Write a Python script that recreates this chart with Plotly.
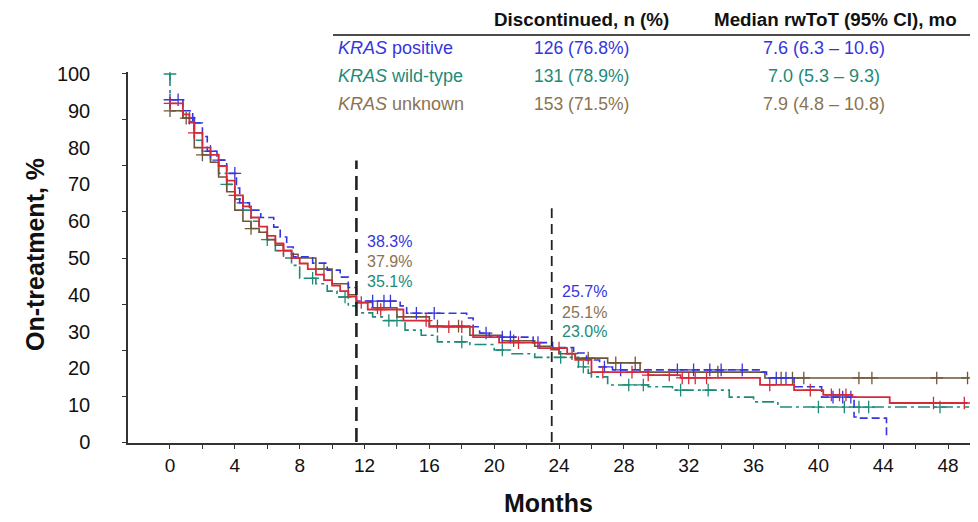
import bisect
import plotly.graph_objects as go

# ---------------- data ----------------
blue_t = [0, 0.8, 1.4, 2.0, 2.3, 2.9, 3.5, 4.1, 4.3, 4.9, 5.6, 6.4, 6.8, 7.2, 7.6, 8.8, 9.7, 10.5, 11.0, 11.5,
          14.2, 14.6, 18.3, 18.7, 19.1, 19.7, 22.4, 23.6, 24.9, 25.7, 26.5, 27.3, 36.5, 36.8, 38.5, 40.2, 42.2, 42.6, 44.2]
blue_v = [93, 90, 86.7, 83, 79, 76.6, 73, 69, 65, 63, 61, 58.4, 55.7, 53, 50.3, 48.6, 46.7, 44.8, 42, 38.3,
          37, 35, 33.7, 31.3, 29.6, 28.5, 27, 25.7, 24.2, 22.3, 20.4, 19.6, 19, 17.4, 15, 12.2, 6.8, 6.5, 1.5]
blue_c = [0, 0.5, 1.5, 2.5, 3.0, 4.0, 4.5, 12.5, 13.2, 13.6, 15.2, 16.3, 19.5, 20.5, 21, 22.7, 26.8, 27.8,
          31.3, 32.3, 33.3, 34.0, 35.3, 37.4, 38.0, 40.9, 41.5, 42.0]

teal_t = [0, 0, 0.8, 1.5, 2.0, 2.5, 3.0, 3.5, 4.0, 4.5, 5.0, 5.5, 6.0, 6.5, 7.0, 7.5, 8.0, 9.0, 9.7, 10.3, 11.0,
          11.5, 12.5, 13.2, 14.5, 15.5, 16.5, 18.5, 20.0, 21.0, 22.5, 25.2, 25.8, 26.0, 27.0, 29.5, 31.0, 34.5,
          36.0, 37.5, 49.3]
teal_v = [100, 90, 88, 82, 79, 76, 73, 70, 66, 63, 60, 57, 55, 52, 50, 48, 44.5, 43, 41, 39.4, 37,
          35.1, 34, 33, 30.4, 29, 27.2, 26.5, 25, 24, 23, 20.4, 18.7, 17.7, 15.5, 15, 14.1, 12.2,
          10.9, 9.5, 9.5]
teal_c = [0, 1.2, 3.5, 6.0, 8.8, 10.8, 13.5, 14.0, 18.0, 20.5, 24.1, 25.5, 28.3, 29.2, 31.5, 33.2, 40.0,
          41.6, 42.5, 43.1, 47.5]

brown_t = [0, 0.8, 1.5, 2.0, 2.5, 3.0, 3.5, 4.0, 4.5, 5.0, 5.5, 6.0, 6.5, 7.0, 7.5, 7.9, 9.0, 10.0, 11.0, 11.5,
           12.5, 14.0, 16.0, 18.5, 20.5, 22.5, 23.5, 24.0, 25.0, 27.0, 29.0, 36.7, 49.3]
brown_v = [90, 88, 80, 78, 76, 72, 68, 63, 60, 58, 57, 55, 53.5, 52, 51, 50, 47, 43, 40, 37.9,
           36.5, 34, 31.5, 29, 27.5, 26, 25.1, 24, 22.8, 21.5, 19, 17.4, 17.4]
brown_c = [0, 1.0, 2.0, 5.0, 9.5, 12.8, 16.5, 17.8, 21.2, 24.8, 25.8, 27.5, 28.7, 33.8, 37.7, 38.4, 39.1,
           42.5, 43.3, 47.3, 49.2]

red_t = [0, 0.8, 1.2, 1.5, 2.0, 2.5, 3.0, 3.5, 4.0, 4.5, 5.0, 5.5, 6.0, 6.5, 7.0, 7.5, 8.0, 8.5, 9.0, 9.5,
         10.0, 10.5, 11.0, 11.5, 12.2, 14.4, 16.0, 18.7, 20.3, 22.8, 24.5, 25.0, 26.0, 29.5, 31.5, 36.4,
         38.5, 40.3, 42.1, 44.4, 49.2]
red_v = [92, 89, 87, 84, 80, 78, 75, 71, 67, 64, 61, 58.5, 56, 54, 52, 50, 48.5, 47, 45.5, 44,
         42.5, 41, 39.5, 37.9, 36, 33, 31.3, 28.5, 27, 25.5, 24, 22.3, 19, 18.2, 17.4, 15.5,
         14.1, 12.8, 12.2, 10.6, 10.6]
red_c = [0, 1.5, 4.0, 7.0, 11.8, 13.0, 15.8, 17.2, 18.0, 21.5, 24.0, 26.7, 28.5, 29.5, 30.8, 31.6, 32.0,
         32.4, 33.1, 37.0, 39.5, 40.8, 41.3, 41.7, 47.1, 49.0]

x_tick_vals = list(range(0, 49, 4))
y_tick_vals = list(range(0, 101, 10))
landmarks = [11.5, 23.55]

table_header = ["Discontinued, n (%)", "Median rwToT (95% CI), mo"]
group_names = ["positive", "wild-type", "unknown"]
discontinued = ["126 (76.8%)", "131 (78.9%)", "153 (71.5%)"]
median_tot = ["7.6 (6.3 – 10.6)", "7.0 (5.3 – 9.3)", "7.9 (4.8 – 10.8)"]
pct_12 = ["38.3%", "37.9%", "35.1%"]   # blue, brown, teal
pct_24 = ["25.7%", "25.1%", "23.0%"]

BLUE = "#3535e0"
TEAL = "#1e8a78"
BROWN = "#8b7352"
BROWN_LINE = "#6e5638"
RED = "#d42a3a"
FONT = "Liberation Sans, Arial, sans-serif"


def step_lookup(ts, vs, t):
    i = bisect.bisect_left(ts, t)
    if i < len(ts) and ts[i] == t:
        return vs[i]
    return vs[max(i - 1, 0)]


fig = go.Figure()
series = [
    (teal_t, teal_v, teal_c, TEAL, "12px,4px,3px,4px", 1.6),
    (brown_t, brown_v, brown_c, BROWN_LINE, "solid", 1.6),
    (blue_t, blue_v, blue_c, BLUE, "8px,4px", 1.6),
    (red_t, red_v, red_c, RED, "solid", 1.8),
]
for ts, vs, cs, col, dash, w in series:
    fig.add_trace(go.Scatter(x=ts, y=vs, mode="lines", line=dict(color=col, width=w, dash=dash, shape="hv"),
                             showlegend=False, hoverinfo="skip"))
    fig.add_trace(go.Scatter(x=cs, y=[step_lookup(ts, vs, c) for c in cs], mode="markers",
                             marker=dict(symbol="cross-thin", size=9, line=dict(color=col, width=1.3)),
                             showlegend=False, hoverinfo="skip"))

# landmark dashed lines
fig.add_shape(type="line", x0=landmarks[0], x1=landmarks[0], y0=0, y1=76.5,
              line=dict(color="#222222", width=2.6, dash="14px,7px"))
fig.add_shape(type="line", x0=landmarks[1], x1=landmarks[1], y0=0, y1=63.5,
              line=dict(color="#222222", width=1.8, dash="10px,6px"))

ann = []
# landmark percentages
for i, (txt, col) in enumerate(zip(pct_12, [BLUE, BROWN, TEAL])):
    ann.append(dict(x=landmarks[0] + 0.55, y=[54.5, 49.0, 43.6][i], text=txt, xanchor="left", yanchor="middle",
                    showarrow=False, font=dict(size=16, color=col, family=FONT)))
for i, (txt, col) in enumerate(zip(pct_24, [BLUE, BROWN, TEAL])):
    ann.append(dict(x=landmarks[1] + 0.5, y=[40.8, 35.3, 29.9][i], text=txt, xanchor="left", yanchor="middle",
                    showarrow=False, font=dict(size=16, color=col, family=FONT)))

# page has an 8px body margin: the figure is sized to fit in the window
OFF = 8
W, H = 978 - OFF, 522 - OFF   # 970 x 514
ML, MR, MT, MB = 128 - OFF, 3, 72 - OFF, 79
pw, ph = W - ML - MR, H - MT - MB


def px(x):
    return (x - OFF - ML) / pw


def py(y):
    return (H - MB - (y - OFF)) / ph


for txt, cx in zip(table_header, [581, 835]):
    ann.append(dict(xref="paper", yref="paper", x=px(cx), y=py(19), text="<b>" + txt + "</b>",
                    showarrow=False, xanchor="center", yanchor="middle",
                    font=dict(size=18.8, color="#111111", family=FONT)))
row_y = [48, 76, 104]
for name, d, m, col, yy in zip(group_names, discontinued, median_tot, [BLUE, TEAL, BROWN], row_y):
    ann.append(dict(xref="paper", yref="paper", x=px(336), y=py(yy), text="<i>KRAS</i> " + name,
                    showarrow=False, xanchor="left", yanchor="middle", font=dict(size=18, color=col, family=FONT)))
    ann.append(dict(xref="paper", yref="paper", x=px(581), y=py(yy), text=d,
                    showarrow=False, xanchor="center", yanchor="middle", font=dict(size=17.5, color=col, family=FONT)))
    ann.append(dict(xref="paper", yref="paper", x=px(824), y=py(yy), text=m,
                    showarrow=False, xanchor="center", yanchor="middle", font=dict(size=18, color=col, family=FONT)))

fig.add_shape(type="line", xref="paper", yref="paper", x0=px(333), x1=px(978), y0=py(35), y1=py(35),
              line=dict(color="#111111", width=1.6))

# axis titles
ann.append(dict(xref="paper", yref="paper", x=px(35), y=py(255), text="<b>On-treatment, %</b>", textangle=-90,
                showarrow=False, xanchor="center", yanchor="middle", font=dict(size=25, color="#111111", family=FONT)))
ann.append(dict(xref="paper", yref="paper", x=px(548), y=py(503), text="<b>Months</b>",
                showarrow=False, xanchor="center", yanchor="middle", font=dict(size=25, color="#111111", family=FONT)))

fig.update_layout(
    width=W, height=H, margin=dict(l=ML, r=MR, t=MT, b=MB, autoexpand=False),
    paper_bgcolor="white", plot_bgcolor="white",
    font=dict(family=FONT, color="#111111"),
    annotations=ann,
    xaxis=dict(range=[-2.59, 49.66], tickvals=x_tick_vals, ticks="outside", ticklen=4, tickcolor="#333333",
               showline=True, linecolor="#333333", linewidth=1.5, showgrid=False, zeroline=False,
               automargin=False, tickfont=dict(size=19, color="#111111"),
               minor=dict(tickvals=list(range(0, 50, 2)), ticks="outside", ticklen=4, tickcolor="#333333")),
    yaxis=dict(range=[-0.27, 100.54], tickvals=y_tick_vals, ticks="outside", ticklen=32,
               tickcolor="rgba(0,0,0,0)", showline=True, linecolor="#333333",
               linewidth=1.5, showgrid=False, zeroline=False, automargin=False,
               tickfont=dict(size=20, color="#111111"),
               minor=dict(tickvals=[0, 12.5, 25, 37.5, 50, 62.5, 75, 87.5, 100], ticks="outside", ticklen=4,
                          tickcolor="#333333")),
)

fig.write_html("out.html")
